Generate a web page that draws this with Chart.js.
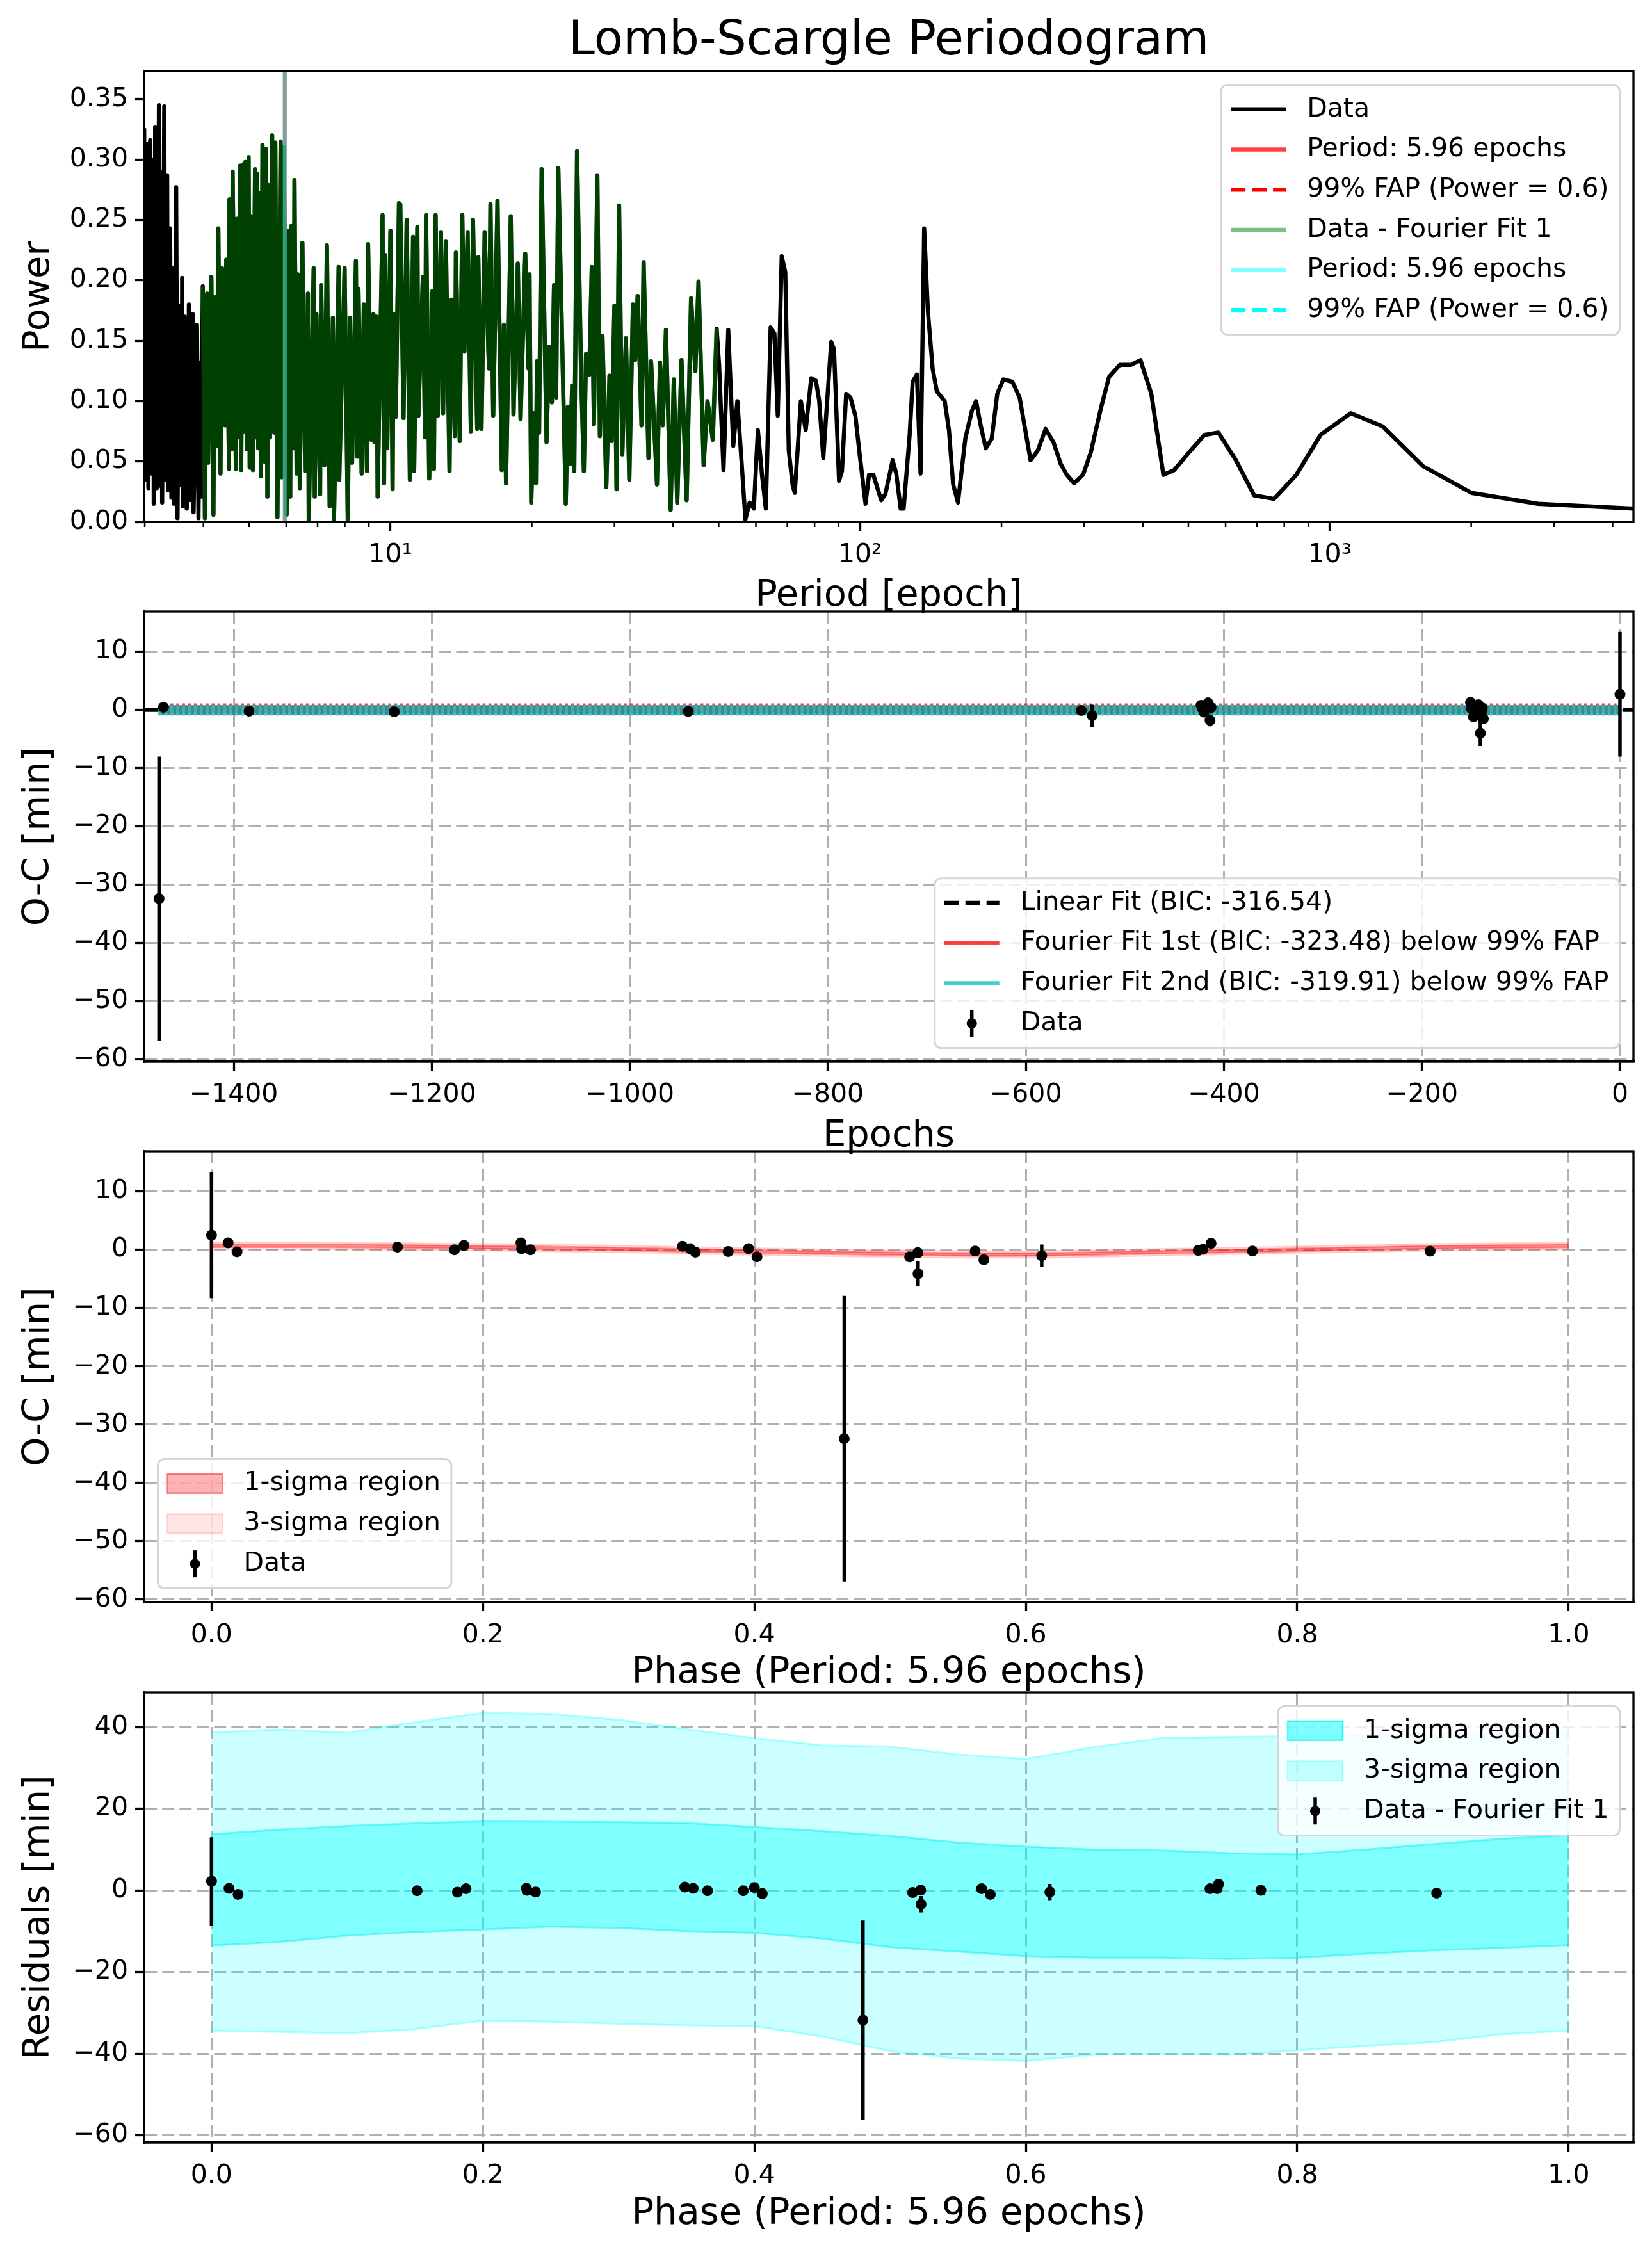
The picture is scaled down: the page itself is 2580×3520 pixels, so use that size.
<!DOCTYPE html>
<html>
<head>
<meta charset="utf-8">
<title>Lomb-Scargle Periodogram</title>
<script src="https://cdn.jsdelivr.net/npm/chart.js"></script>
<style>
    html, body { margin: 0; padding: 0; background: #ffffff; }
    body { width: 2580px; height: 3520px; position: relative; overflow: hidden; }
    canvas { position: absolute; left: 0; }
</style>
</head>
<body>
<canvas id="periodogramChart" width="2580" height="966" style="top:0px"></canvas>
<canvas id="ocChart" width="2580" height="965" style="top:845px"></canvas>
<canvas id="phaseChart" width="2580" height="960" style="top:1688px"></canvas>
<canvas id="residualChart" width="2580" height="960" style="top:2533px"></canvas>
<script>
/* Periodogram + O-C panels */

// --- Panel 1: Lomb-Scargle periodogram (period in epochs, power)
const periods = [
    2.991, 3.010, 3.029, 3.054, 3.080, 3.105, 3.125, 3.135, 3.157, 3.183,
    3.216, 3.233, 3.250, 3.267, 3.301, 3.321, 3.348, 3.362, 3.397, 3.419,
    3.448, 3.462, 3.499, 3.523, 3.545, 3.562, 3.581, 3.595, 3.604, 3.618,
    3.649, 3.668, 3.680, 3.686, 3.725, 3.744, 3.795, 3.811, 3.875, 3.904,
    3.932, 3.957,
    3.987, 4.029, 4.072, 4.093, 4.158, 4.201, 4.223, 4.268, 4.303, 4.349,
    4.381, 4.450, 4.473, 4.535, 4.544, 4.591, 4.615, 4.689, 4.713, 4.763,
    4.788, 4.813, 4.863, 4.888, 4.914, 4.951, 4.992, 5.018, 5.060, 5.098,
    5.151, 5.178, 5.206, 5.233, 5.260, 5.305, 5.343, 5.399, 5.428, 5.473,
    5.485, 5.543, 5.601, 5.660, 5.689, 5.749, 5.840, 5.870, 5.932, 6.013,
    6.077, 6.121, 6.153, 6.218, 6.250, 6.316, 6.349, 6.416, 6.497, 6.586,
    6.676, 6.703, 6.867, 6.903, 6.961, 7.086, 7.123, 7.236, 7.326, 7.427,
    7.545, 7.584, 7.761, 7.784, 7.991, 8.117, 8.202, 8.289, 8.446, 8.508,
    8.552, 8.688, 8.780, 8.918, 8.965, 9.107, 9.202, 9.250, 9.348, 9.396,
    9.625, 9.696, 9.746, 9.849, 10.004, 10.110, 10.162, 10.270, 10.431,
    10.498, 10.666, 10.834, 11.005, 11.178, 11.237, 11.414, 11.474, 11.727, 11.850,
    11.912, 12.100, 12.291, 12.380, 12.485, 12.616, 12.815, 12.950, 13.127, 13.363,
    13.503, 13.716, 13.788, 14.050, 14.227, 14.377, 14.605, 14.836, 14.991, 15.307,
    15.387, 15.630, 15.877, 16.214, 16.333, 16.556, 16.907, 17.265, 17.447, 17.630,
    18.042, 18.289, 18.676, 18.932, 19.372, 19.678, 19.781, 19.947, 20.198, 20.410,
    20.517, 20.732, 20.994, 21.504, 21.776, 22.074, 22.306, 22.540, 22.778, 23.627,
    23.874, 24.125, 24.378, 24.633, 24.970, 25.472, 25.820, 26.094, 26.508, 26.842,
    27.124, 27.582, 27.930, 28.283, 28.820, 29.276, 29.583, 29.988, 30.303, 30.686,
    31.172, 31.730, 32.264, 32.843, 33.188, 33.608, 34.247, 34.607, 35.446,
    35.890, 36.950, 37.500, 38.010, 38.610, 39.510, 40.130, 40.810, 41.670, 42.730,
    43.670, 44.590, 45.300, 46.450, 47.330, 48.580, 49.500,
    50.1, 51.2, 52.4, 53.7, 54.8, 56.0, 57.0, 58.2, 59.4, 60.6,
    61.9, 63.0, 64.5, 65.7, 66.8, 68.1, 69.3, 70.5, 71.8, 72.6,
    74.8, 76.6, 78.7, 80.5, 81.8, 83.5, 86.8, 88.0, 90.2, 91.5,
    93.4, 95.4, 97.7, 100.0, 102.7, 104.5, 106.7, 110.9, 113.2, 117.3,
    119.4, 122.0, 123.8, 127.5, 129.4, 132.1, 134.5, 136.9, 139.4, 142.7,
    145.7, 151.4, 154.6, 157.8, 161.6, 167.5, 173.0, 176.6, 180.8, 185.2,
    190.7, 195.9, 201.8, 211.0, 218.6, 230.6, 238.9, 248.3, 258.0, 267.4,
    275.4, 285.4, 298.4, 310.1, 325.1, 338.8, 357.3, 377.0, 395.3, 416.9,
    442.3, 466.6, 505.3, 541.0, 579.2, 631.1, 690.0, 760.6, 848.6, 955.4,
    1107.9, 1296.6, 1581, 2003.9, 2776, 4428
];
const power = [
    0.326, 0.035, 0.313, 0.028, 0.316, 0.040, 0.300, 0.015, 0.327, 0.028,
    0.345, 0.030, 0.290, 0.016, 0.344, 0.035, 0.287, 0.026, 0.243, 0.020,
    0.210, 0.015, 0.277, 0.003, 0.150, 0.040, 0.179, 0.030, 0.202, 0.013,
    0.170, 0.030, 0.140, 0.011, 0.180, 0.018, 0.172, 0.008, 0.163, 0.003,
    0.132, 0.021,
    0.195, 0.003, 0.189, 0.049, 0.203, 0.006, 0.186, 0.063, 0.243, 0.040,
    0.210, 0.080, 0.217, 0.044, 0.267, 0.060, 0.290, 0.044, 0.251, 0.070,
    0.295, 0.043, 0.296, 0.075, 0.298, 0.060, 0.302, 0.045, 0.253, 0.043,
    0.292, 0.070, 0.288, 0.061, 0.272, 0.038, 0.312, 0.050, 0.309, 0.021,
    0.279, 0.070, 0.320, 0.074, 0.314, 0.004, 0.315, 0.037, 0.310, 0.006,
    0.241, 0.021, 0.245, 0.061, 0.283, 0.040, 0.205, 0.028, 0.231, 0.042,
    0.189, 0.000, 0.210, 0.021, 0.172, 0.023, 0.196, 0.047, 0.229, 0.013,
    0.169, 0.000, 0.211, 0.035, 0.210, 0.000, 0.169, 0.049, 0.216, 0.054,
    0.193, 0.040, 0.180, 0.042, 0.230, 0.068, 0.172, 0.066, 0.170, 0.021,
    0.254, 0.032, 0.221, 0.061, 0.241, 0.027, 0.172, 0.087, 0.264,
    0.263, 0.086, 0.250, 0.035, 0.236, 0.042, 0.244, 0.088, 0.203, 0.070,
    0.254, 0.036, 0.191, 0.044, 0.254, 0.088, 0.240, 0.090, 0.232, 0.042,
    0.184, 0.071, 0.223, 0.067, 0.254, 0.141, 0.240, 0.075, 0.250, 0.077,
    0.219, 0.077, 0.240, 0.127, 0.263, 0.088, 0.266, 0.043, 0.163, 0.032,
    0.253, 0.089, 0.214, 0.085, 0.222, 0.127, 0.205, 0.016, 0.090, 0.032,
    0.133, 0.074, 0.292, 0.066, 0.145, 0.099, 0.196, 0.103, 0.293, 0.015,
    0.095, 0.048, 0.113, 0.042, 0.307, 0.122, 0.042, 0.139, 0.122, 0.211,
    0.081, 0.287, 0.071, 0.154, 0.029, 0.121, 0.067, 0.179, 0.027, 0.262,
    0.056, 0.152, 0.035, 0.180, 0.134, 0.187, 0.080, 0.215, 0.053,
    0.133, 0.031, 0.132, 0.080, 0.159, 0.010, 0.118, 0.016, 0.134, 0.018,
    0.185, 0.125, 0.199, 0.047, 0.100, 0.068, 0.160,
    0.130, 0.043, 0.159, 0.063, 0.100, 0.047, 0.002, 0.016, 0.011, 0.076,
    0.037, 0.011, 0.161, 0.156, 0.088, 0.220, 0.207, 0.059, 0.031, 0.024,
    0.100, 0.076, 0.119, 0.117, 0.101, 0.053, 0.149, 0.143, 0.034, 0.042,
    0.106, 0.103, 0.088, 0.053, 0.015, 0.039, 0.039, 0.018, 0.023, 0.051,
    0.040, 0.011, 0.011, 0.072, 0.116, 0.122, 0.040, 0.243, 0.175, 0.127,
    0.108, 0.100, 0.076, 0.031, 0.016, 0.069, 0.092, 0.100, 0.079, 0.061,
    0.069, 0.106, 0.118, 0.116, 0.103, 0.051, 0.059, 0.077, 0.066, 0.048,
    0.039, 0.032, 0.039, 0.058, 0.093, 0.120, 0.130, 0.130, 0.134, 0.106,
    0.039, 0.043, 0.059, 0.072, 0.074, 0.051, 0.022, 0.019, 0.039, 0.072,
    0.090, 0.079, 0.046, 0.024, 0.015, 0.011
];
// the "Data - Fourier Fit 1" periodogram lies on top of the data one over this period span
const residualPeriodSpan = [3.98, 49.6];
const bestPeriod = 5.96;
const fapPower = 0.6;
const periodRange = [2.99, 4430];
const periodTicks = [10, 100, 1000];
const periodTickLabels = ['10\u00b9', '10\u00b2', '10\u00b3'];
const periodMinorTicks = [3, 4, 5, 6, 7, 8, 9, 20, 30, 40, 50, 60, 70, 80, 90,
    200, 300, 400, 500, 600, 700, 800, 900, 2000, 3000, 4000];
const powerTicks = [0, 0.05, 0.10, 0.15, 0.20, 0.25, 0.30, 0.35];

// --- Panel 2: O-C against epoch
const epochs = [-1475.5, -1471, -1384.5, -1238, -941, -544, -533, -423, -422, -420,
    -416, -414, -413, -151, -150, -148, -147, -146, -145, -143,
    -142, -141, -141, -140, -139, -138, 0];
const ocMinutes = [-32.4, 0.45, -0.2, -0.3, -0.25, -0.1, -1.0, 0.8, 0.3, -0.4,
    1.2, -1.8, 0.4, 1.3, 0.2, -1.2, 0.5, -0.3, 0.0, 0.9,
    -0.4, -0.1, -4.0, -0.5, 0.3, -1.5, 2.7];
const ocErrors = [24.4, 0.3, 0.3, 0.3, 0.3, 0.3, 1.9, 0.3, 0.3, 0.3,
    0.9, 1.0, 0.3, 0.3, 0.3, 0.3, 0.3, 0.3, 0.3, 0.3,
    0.3, 0.3, 2.2, 0.3, 0.3, 0.3, 10.7];
const linearEpochs = [-1490.6, 13.6];
const linearOC = [0.0, 0.0];
const fourierEpochs = [-1476, 0];
const fourier1Crest = [0.9, 0.9];
const fourier2Mid = [0.0, 0.0];
const fourier2Trough = [-0.8, -0.8];
const epochTicks = [-1400, -1200, -1000, -800, -600, -400, -200, 0];
const ocTicks = [-60, -50, -40, -30, -20, -10, 0, 10];

// --- Panel 3: O-C folded on 5.96 epochs
const phases = [0.0, 0.0122, 0.0188, 0.137, 0.179, 0.186, 0.228, 0.2285, 0.235, 0.347,
    0.3526, 0.3565, 0.3807, 0.3957, 0.4019, 0.4662, 0.5144, 0.5204, 0.5206, 0.5626,
    0.5691, 0.6117, 0.727, 0.7305, 0.7365, 0.767, 0.8979];
const phaseOC = [2.5, 1.2, -0.35, 0.47, 0.0, 0.76, 1.2, 0.2, 0.0, 0.6,
    0.2, -0.4, -0.3, 0.2, -1.2, -32.4, -1.2, -0.5, -4.1, -0.2,
    -1.7, -1.0, -0.1, 0.1, 1.1, -0.2, -0.25];
const phaseErrors = [10.8, 0.3, 0.3, 0.3, 0.3, 0.3, 0.3, 0.3, 0.3, 0.3,
    0.3, 0.3, 0.3, 0.3, 0.3, 24.5, 0.3, 0.3, 2.1, 0.3,
    0.3, 1.9, 0.3, 0.3, 0.9, 0.3, 0.3];
const fitPhase = [0, 0.1, 0.2, 0.3, 0.4, 0.5, 0.6, 0.7, 0.8, 0.9, 1.0];
const fitSigma1Upper = [0.95, 0.9, 0.7, 0.4, -0.05, -0.4, -0.55, -0.15, 0.25, 0.7, 0.9];
const fitSigma1Lower = [0.45, 0.4, 0.2, -0.1, -0.55, -0.9, -1.05, -0.65, -0.25, 0.2, 0.4];
const fitSigma3Upper = [1.3, 1.25, 1.05, 0.75, 0.3, -0.05, -0.2, 0.2, 0.6, 1.05, 1.25];
const fitSigma3Lower = [0.1, 0.05, -0.15, -0.45, -0.9, -1.25, -1.4, -1.0, -0.6, -0.15, 0.05];
const phaseTicks = [0, 0.2, 0.4, 0.6, 0.8, 1.0];

// --- Panel 4: residuals after Fourier fit 1
const residPhases = [0.0, 0.0129, 0.0196, 0.1515, 0.1812, 0.1875, 0.232, 0.2325, 0.2388, 0.3487,
    0.3549, 0.3655, 0.3918, 0.4, 0.4058, 0.48, 0.5166, 0.5226, 0.5228, 0.5674,
    0.5738, 0.6177, 0.7357, 0.741, 0.742, 0.7732, 0.9027];
const residuals = [2.2, 0.5, -1.0, -0.1, -0.45, 0.4, 0.5, 0.0, -0.4, 0.8,
    0.5, -0.1, -0.1, 0.7, -0.8, -31.8, -0.55, 0.05, -3.4, 0.4,
    -1.0, -0.4, 0.4, 0.4, 1.5, 0.0, -0.7];
const residErrors = [10.8, 0.3, 0.3, 0.3, 0.3, 0.3, 0.3, 0.3, 0.3, 0.3,
    0.3, 0.3, 0.3, 0.3, 0.3, 24.4, 0.3, 0.3, 2.0, 0.3,
    0.3, 2.0, 0.3, 0.3, 0.9, 0.3, 0.3];
const bandPhase = [0, 0.05, 0.1, 0.15, 0.2, 0.25, 0.3, 0.35, 0.4, 0.45, 0.5,
    0.55, 0.6, 0.65, 0.7, 0.75, 0.8, 0.85, 0.9, 0.95, 1.0];
const residSigma1Upper = [13.7, 14.9, 15.8, 16.4, 16.9, 16.8, 16.7, 16.5, 15.5, 14.5, 13.3,
    11.7, 10.7, 10.0, 9.8, 9.1, 8.8, 10.0, 11.3, 12.6, 13.5];
const residSigma1Lower = [-13.5, -12.6, -11.1, -10.2, -9.6, -8.9, -9.2, -10.0, -10.4, -11.8, -13.9,
    -15.0, -16.1, -16.5, -16.5, -16.8, -16.5, -15.5, -14.7, -14.1, -13.4];
const residSigma3Upper = [38.7, 39.4, 38.6, 41.2, 43.5, 43.2, 41.8, 39.5, 37.3, 35.5, 35.2,
    33.3, 32.2, 35.1, 37.3, 37.6, 37.8, 38.0, 38.2, 38.4, 38.6];
const residSigma3Lower = [-34.4, -34.7, -35.0, -34.0, -31.9, -32.2, -32.7, -33.1, -33.3, -35.8, -39.4,
    -41.2, -41.8, -40.3, -40.1, -40.3, -39.2, -38.1, -37.2, -35.3, -34.4];
const residTicks = [-60, -40, -20, 0, 20, 40];

// ---------------------------------------------------------------------------

Chart.defaults.font.family = "'DejaVu Sans', sans-serif";
Chart.defaults.color = '#000000';

const TICK_FONT = 41;
const LABEL_FONT = 57.5;
const LEGEND_FONT = 41;
const ERRBAR_WIDTH = 5.5;

function xy(xs, ys) {
    return xs.map(function (x, i) { return { x: x, y: ys[i] }; });
}

// vertical error bar segments, broken by null points
function errorSegments(xs, ys, errs) {
    const pts = [];
    xs.forEach(function (x, i) {
        pts.push({ x: x, y: ys[i] - errs[i] }, { x: x, y: ys[i] + errs[i] }, { x: x, y: null });
    });
    return pts;
}

function minusSign(v) {
    return String(v).replace('-', '\u2212');
}

function fixedTicks(values) {
    return function (scale) { scale.ticks = values.map(function (v) { return { value: v }; }); };
}

// Plot frame (all four spines)
const framePlugin = {
    id: 'frame',
    afterDatasetsDraw(chart) {
        const a = chart.chartArea, ctx = chart.ctx;
        ctx.save();
        ctx.strokeStyle = '#000000';
        ctx.lineWidth = 3.3;
        ctx.strokeRect(a.left, a.top, a.right - a.left, a.bottom - a.top);
        ctx.restore();
    }
};

// Title centred over the plot area
const figTitlePlugin = {
    id: 'figTitle',
    afterDraw(chart, args, opts) {
        if (!opts.text) return;
        const a = chart.chartArea, ctx = chart.ctx;
        ctx.save();
        ctx.font = opts.size + "px 'DejaVu Sans'";
        ctx.fillStyle = '#000000';
        ctx.textAlign = 'center';
        ctx.textBaseline = 'middle';
        ctx.fillText(opts.text, (a.left + a.right) / 2, opts.y);
        ctx.restore();
    }
};

// Short minor tick marks on the log axis
const minorTickPlugin = {
    id: 'minorTicks',
    afterDraw(chart, args, opts) {
        if (!opts.values) return;
        const scale = chart.scales.x, ctx = chart.ctx, bottom = chart.chartArea.bottom;
        ctx.save();
        ctx.strokeStyle = '#000000';
        ctx.lineWidth = 2.5;
        opts.values.forEach(function (v) {
            if (v < scale.min || v > scale.max) return;
            const px = scale.getPixelForValue(v);
            ctx.beginPath();
            ctx.moveTo(px, bottom);
            ctx.lineTo(px, bottom + 8);
            ctx.stroke();
        });
        ctx.restore();
    }
};

// Framed legend inside the axes, matplotlib style
const boxLegendPlugin = {
    id: 'boxLegend',
    afterDraw(chart, args, opts) {
        if (!opts.corner) return;
        const entries = chart.data.datasets
            .filter(function (ds) { return ds.legendRank !== undefined; })
            .sort(function (a, b) { return a.legendRank - b.legendRank; });
        if (!entries.length) return;
        const ctx = chart.ctx, area = chart.chartArea;
        const rowHeight = 62.7, pad = 7, inset = 21.5;
        ctx.save();
        ctx.font = LEGEND_FONT + "px 'DejaVu Sans'";
        let textWidth = 0;
        entries.forEach(function (ds) { textWidth = Math.max(textWidth, ctx.measureText(ds.label).width); });
        const w = 134 + textWidth + 17;
        const h = entries.length * rowHeight + 2 * pad;
        const x = opts.corner.indexOf('left') >= 0 ? area.left + inset : area.right - inset - w;
        const y = opts.corner.indexOf('upper') >= 0 ? area.top + inset : area.bottom - inset - h;
        const r = 10;
        ctx.beginPath();
        ctx.moveTo(x + r, y);
        ctx.lineTo(x + w - r, y);
        ctx.arcTo(x + w, y, x + w, y + r, r);
        ctx.lineTo(x + w, y + h - r);
        ctx.arcTo(x + w, y + h, x + w - r, y + h, r);
        ctx.lineTo(x + r, y + h);
        ctx.arcTo(x, y + h, x, y + h - r, r);
        ctx.lineTo(x, y + r);
        ctx.arcTo(x, y, x + r, y, r);
        ctx.closePath();
        ctx.fillStyle = 'rgba(255,255,255,0.8)';
        ctx.fill();
        ctx.lineWidth = 3;
        ctx.strokeStyle = '#d6d6d6';
        ctx.stroke();

        entries.forEach(function (ds, i) {
            const cy = y + pad + rowHeight * (i + 0.5);
            const hx = x + 15, hw = 86;
            const handle = ds.legendHandle || {};
            const type = handle.type || 'line';
            ctx.setLineDash([]);
            if (type === 'line') {
                ctx.strokeStyle = handle.color || ds.borderColor;
                ctx.lineWidth = 6.5;
                ctx.setLineDash(handle.dash || ds.borderDash || []);
                ctx.beginPath();
                ctx.moveTo(hx, cy);
                ctx.lineTo(hx + hw, cy);
                ctx.stroke();
                ctx.setLineDash([]);
            } else if (type === 'patch') {
                ctx.fillStyle = handle.fill;
                ctx.fillRect(hx, cy - 15, hw, 30);
                ctx.strokeStyle = handle.edge;
                ctx.lineWidth = 2.5;
                ctx.strokeRect(hx, cy - 15, hw, 30);
            } else if (type === 'errorbar') {
                ctx.strokeStyle = '#000000';
                ctx.lineWidth = ERRBAR_WIDTH;
                ctx.beginPath();
                ctx.moveTo(hx + hw / 2, cy - 21);
                ctx.lineTo(hx + hw / 2, cy + 21);
                ctx.stroke();
                ctx.fillStyle = '#000000';
                ctx.beginPath();
                ctx.arc(hx + hw / 2, cy, 8, 0, Math.PI * 2);
                ctx.fill();
            }
            ctx.fillStyle = '#000000';
            ctx.textAlign = 'left';
            ctx.textBaseline = 'middle';
            ctx.fillText(ds.label, x + 134, cy);
        });
        ctx.restore();
    }
};

Chart.register(framePlugin, figTitlePlugin, minorTickPlugin, boxLegendPlugin);

function baseOptions(paddingTop) {
    return {
        responsive: false,
        animation: false,
        events: [],
        layout: { padding: { top: paddingTop, right: 29, left: 0, bottom: 0 } },
        elements: { point: { radius: 0 }, line: { tension: 0, borderJoinStyle: 'round' } },
        plugins: { legend: { display: false }, tooltip: { enabled: false } },
        scales: {}
    };
}

function yTitle(text) {
    return { display: true, text: text, font: { size: LABEL_FONT }, color: '#000', padding: { top: 26.5, bottom: 0 } };
}

function xTitle(text) {
    return { display: true, text: text, font: { size: LABEL_FONT }, color: '#000', padding: { top: 0, bottom: 0 } };
}

const dashedGrid = { color: '#b0b0b0', lineWidth: 3, tickColor: '#000', tickWidth: 3.3, tickLength: 14, tickBorderDash: [] };
const dashedBorder = { display: true, color: '#000', width: 3.3, dash: [19, 8] };

// 1. Lomb-Scargle periodogram
(function () {
    const dataPts = xy(periods, power);
    const residualPts = dataPts.filter(function (p) {
        return p.x >= residualPeriodSpan[0] && p.x <= residualPeriodSpan[1];
    });
    const opts = baseOptions(111);
    opts.plugins.figTitle = { text: 'Lomb-Scargle Periodogram', size: 74, y: 66 };
    opts.plugins.minorTicks = { values: periodMinorTicks };
    opts.plugins.boxLegend = { corner: 'upper right' };
    opts.scales = {
        x: {
            type: 'logarithmic',
            min: periodRange[0],
            max: periodRange[1],
            afterBuildTicks: fixedTicks(periodTicks),
            afterFit: function (scale) { scale.height = 151; },
            ticks: {
                autoSkip: false, maxRotation: 0, minRotation: 0, padding: 14,
                font: { size: TICK_FONT },
                callback: function (v) { return periodTickLabels[periodTicks.indexOf(v)] || ''; }
            },
            grid: { drawOnChartArea: false, tickColor: '#000', tickWidth: 3.3, tickLength: 14 },
            border: { color: '#000', width: 3.3 },
            title: xTitle('Period [epoch]')
        },
        y: {
            min: 0,
            max: 0.3733,
            afterBuildTicks: fixedTicks(powerTicks),
            afterFit: function (scale) { scale.width = 225; },
            ticks: { padding: 11, font: { size: TICK_FONT }, callback: function (v) { return v.toFixed(2); } },
            grid: { drawOnChartArea: false, tickColor: '#000', tickWidth: 3.3, tickLength: 14 },
            border: { color: '#000', width: 3.3 },
            title: yTitle('Power')
        }
    };
    new Chart(document.getElementById('periodogramChart'), {
        type: 'line',
        data: {
            datasets: [
                { label: '99% FAP (Power = 0.6)', data: xy(periodRange, [fapPower, fapPower]),
                  borderColor: '#00ffff', borderWidth: 6, borderDash: [23, 10], legendRank: 5 },
                { label: 'Period: 5.96 epochs', data: xy([bestPeriod, bestPeriod], [0, 1]),
                  borderColor: 'rgba(0,255,255,0.5)', borderWidth: 6, legendRank: 4 },
                { label: 'Data - Fourier Fit 1', data: residualPts,
                  borderColor: 'rgba(0,128,0,0.5)', borderWidth: 6.5, legendRank: 3 },
                { label: '99% FAP (Power = 0.6)', data: xy(periodRange, [fapPower, fapPower]),
                  borderColor: '#ff0000', borderWidth: 6, borderDash: [23, 10], legendRank: 2 },
                { label: 'Period: 5.96 epochs', data: xy([bestPeriod, bestPeriod], [0, 1]),
                  borderColor: 'rgba(255,0,0,0.75)', borderWidth: 6, legendRank: 1 },
                { label: 'Data', data: dataPts, borderColor: '#000000', borderWidth: 6.5, legendRank: 0 }
            ]
        },
        options: opts
    });
})();

// 2. O-C diagram against epoch
(function () {
    const opts = baseOptions(110);
    opts.plugins.boxLegend = { corner: 'lower right' };
    opts.scales = {
        x: {
            type: 'linear', min: -1490.6, max: 13.6,
            afterBuildTicks: fixedTicks(epochTicks),
            afterFit: function (scale) { scale.height = 152; },
            ticks: { autoSkip: false, maxRotation: 0, padding: 14, font: { size: TICK_FONT }, callback: minusSign },
            grid: dashedGrid, border: dashedBorder,
            title: xTitle('Epochs')
        },
        y: {
            min: -60.4, max: 16.9,
            afterBuildTicks: fixedTicks(ocTicks),
            afterFit: function (scale) { scale.width = 225; },
            ticks: { padding: 11, font: { size: TICK_FONT }, callback: minusSign },
            grid: dashedGrid, border: dashedBorder,
            title: yTitle('O-C [min]')
        }
    };
    new Chart(document.getElementById('ocChart'), {
        type: 'line',
        data: {
            datasets: [
                { label: 'Data', data: xy(epochs, ocMinutes), showLine: false,
                  pointRadius: 8.5, pointBackgroundColor: '#000', pointBorderWidth: 0,
                  legendRank: 3, legendHandle: { type: 'errorbar' } },
                { label: 'error', data: errorSegments(epochs, ocMinutes, ocErrors),
                  borderColor: '#000', borderWidth: ERRBAR_WIDTH },
                { label: 'fit2 trough', data: xy(fourierEpochs, fourier2Trough),
                  borderColor: '#40cfcf', borderWidth: 3, borderDash: [4.6, 4.6] },
                { label: 'fit2 texture', data: xy(fourierEpochs, fourier2Mid),
                  borderColor: '#46aaaa', borderWidth: 15, borderDash: [4.6, 4.6] },
                { label: 'Fourier Fit 2nd (BIC: -319.91) below 99% FAP', data: xy(fourierEpochs, fourier2Mid),
                  borderColor: '#358e8e', borderWidth: 15,
                  legendRank: 2, legendHandle: { color: 'rgba(0,191,191,0.75)' } },
                { label: 'Fourier Fit 1st (BIC: -323.48) below 99% FAP', data: xy(fourierEpochs, fourier1Crest),
                  borderColor: 'rgba(255,0,0,0.75)', borderWidth: 4, borderDash: [4.6, 4.6],
                  legendRank: 1, legendHandle: { color: 'rgba(255,0,0,0.75)', dash: [] } },
                { label: 'Linear Fit (BIC: -316.54)', data: xy(linearEpochs, linearOC),
                  borderColor: '#000', borderWidth: 6, borderDash: [23, 10], legendRank: 0 }
            ]
        },
        options: opts
    });
})();

// 3. Phase-folded O-C with the Fourier fit bands
(function () {
    const opts = baseOptions(110);
    opts.plugins.boxLegend = { corner: 'lower left' };
    opts.scales = {
        x: {
            type: 'linear', min: -0.0497, max: 1.0477,
            afterBuildTicks: fixedTicks(phaseTicks),
            afterFit: function (scale) { scale.height = 146; },
            ticks: { autoSkip: false, maxRotation: 0, padding: 14, font: { size: TICK_FONT },
                     callback: function (v) { return v.toFixed(1); } },
            grid: dashedGrid, border: dashedBorder,
            title: xTitle('Phase (Period: 5.96 epochs)')
        },
        y: {
            min: -60.45, max: 16.9,
            afterBuildTicks: fixedTicks(ocTicks),
            afterFit: function (scale) { scale.width = 225; },
            ticks: { padding: 11, font: { size: TICK_FONT }, callback: minusSign },
            grid: dashedGrid, border: dashedBorder,
            title: yTitle('O-C [min]')
        }
    };
    new Chart(document.getElementById('phaseChart'), {
        type: 'line',
        data: {
            datasets: [
                { label: 'Data', data: xy(phases, phaseOC), showLine: false,
                  pointRadius: 8.5, pointBackgroundColor: '#000', pointBorderWidth: 0,
                  legendRank: 2, legendHandle: { type: 'errorbar' } },
                { label: 'error', data: errorSegments(phases, phaseOC, phaseErrors),
                  borderColor: '#000', borderWidth: ERRBAR_WIDTH },
                { label: '1-sigma region', data: xy(fitPhase, fitSigma1Lower), fill: '+1', tension: 0.3,
                  backgroundColor: 'rgba(255,0,0,0.4)', borderColor: 'rgba(255,0,0,0.35)', borderWidth: 2.5,
                  legendRank: 0, legendHandle: { type: 'patch', fill: 'rgba(255,0,0,0.3)', edge: 'rgba(235,60,60,0.6)' } },
                { label: 'sigma1 upper', data: xy(fitPhase, fitSigma1Upper), tension: 0.3,
                  borderColor: 'rgba(255,0,0,0.35)', borderWidth: 2.5 },
                { label: '3-sigma region', data: xy(fitPhase, fitSigma3Lower), fill: '+1', tension: 0.3,
                  backgroundColor: 'rgba(255,0,0,0.12)', borderColor: 'rgba(255,0,0,0.15)', borderWidth: 2,
                  legendRank: 1, legendHandle: { type: 'patch', fill: 'rgba(255,0,0,0.1)', edge: 'rgba(255,0,0,0.15)' } },
                { label: 'sigma3 upper', data: xy(fitPhase, fitSigma3Upper), tension: 0.3,
                  borderColor: 'rgba(255,0,0,0.15)', borderWidth: 2 }
            ]
        },
        options: opts
    });
})();

// 4. Residuals after the first Fourier fit
(function () {
    const opts = baseOptions(110);
    opts.plugins.boxLegend = { corner: 'upper right' };
    opts.scales = {
        x: {
            type: 'linear', min: -0.0497, max: 1.0477,
            afterBuildTicks: fixedTicks(phaseTicks),
            afterFit: function (scale) { scale.height = 147; },
            ticks: { autoSkip: false, maxRotation: 0, padding: 14, font: { size: TICK_FONT },
                     callback: function (v) { return v.toFixed(1); } },
            grid: dashedGrid, border: dashedBorder,
            title: xTitle('Phase (Period: 5.96 epochs)')
        },
        y: {
            min: -61.8, max: 48.5,
            afterBuildTicks: fixedTicks(residTicks),
            afterFit: function (scale) { scale.width = 225; },
            ticks: { padding: 11, font: { size: TICK_FONT }, callback: minusSign },
            grid: dashedGrid, border: dashedBorder,
            title: yTitle('Residuals [min]')
        }
    };
    new Chart(document.getElementById('residualChart'), {
        type: 'line',
        data: {
            datasets: [
                { label: 'Data - Fourier Fit 1', data: xy(residPhases, residuals), showLine: false,
                  pointRadius: 8.5, pointBackgroundColor: '#000', pointBorderWidth: 0,
                  legendRank: 2, legendHandle: { type: 'errorbar' } },
                { label: 'error', data: errorSegments(residPhases, residuals, residErrors),
                  borderColor: '#000', borderWidth: ERRBAR_WIDTH },
                { label: '1-sigma region', data: xy(bandPhase, residSigma1Lower), fill: '+1',
                  backgroundColor: 'rgba(0,255,255,0.375)', borderColor: 'rgba(0,235,235,0.45)', borderWidth: 3,
                  legendRank: 0, legendHandle: { type: 'patch', fill: 'rgba(0,255,255,0.5)', edge: 'rgba(0,230,230,0.6)' } },
                { label: 'sigma1 upper', data: xy(bandPhase, residSigma1Upper),
                  borderColor: 'rgba(0,235,235,0.45)', borderWidth: 3 },
                { label: '3-sigma region', data: xy(bandPhase, residSigma3Lower), fill: '+1',
                  backgroundColor: 'rgba(0,255,255,0.2)', borderColor: 'rgba(0,255,255,0.3)', borderWidth: 3,
                  legendRank: 1, legendHandle: { type: 'patch', fill: 'rgba(0,255,255,0.2)', edge: 'rgba(0,255,255,0.3)' } },
                { label: 'sigma3 upper', data: xy(bandPhase, residSigma3Upper),
                  borderColor: 'rgba(0,255,255,0.3)', borderWidth: 3 }
            ]
        },
        options: opts
    });
})();
</script>
</body>
</html>
